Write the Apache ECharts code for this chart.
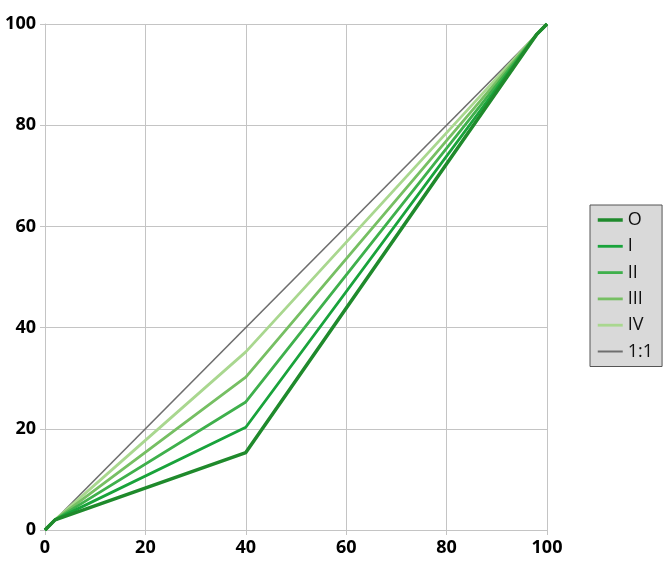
<!DOCTYPE html>
<html>
<head>
<meta charset="utf-8">
<script src="https://cdn.jsdelivr.net/npm/echarts@6/dist/echarts.min.js"></script>
<style>
html,body{margin:0;padding:0;background:#fff;}
#chart{width:668px;height:572px;}
</style>
</head>
<body>
<div id="chart"></div>
<script>
var xValues = [0, 2, 40, 98, 100];
var seriesNames = ['O', 'I', 'II', 'III', 'IV'];
var valuesO = [0, 2, 15.3, 98, 100];
var valuesI = [0, 2, 20.3, 98, 100];
var valuesII = [0, 2, 25.3, 98, 100];
var valuesIII = [0, 2, 30.2, 98, 100];
var valuesIV = [0, 2, 35.2, 98, 100];
var refName = '1:1';
var refX = [0, 100];
var refY = [0, 100];

var allValues = [valuesO, valuesI, valuesII, valuesIII, valuesIV];
var colors = ['#1f8a2c', '#19a33b', '#3fb04c', '#76bf63', '#a9d78f'];
var widths = [3.5, 2.8, 2.8, 2.8, 2.8];

function pairs(xs, ys) {
  return xs.map(function (x, i) { return [x, ys[i]]; });
}

var series = seriesNames.map(function (name, k) {
  return {
    name: name,
    type: 'line',
    symbol: 'none',
    showSymbol: false,
    data: pairs(xValues, allValues[k]),
    lineStyle: { color: colors[k], width: widths[k] },
    itemStyle: { color: colors[k] },
    z: 10 - k
  };
});
series.push({
  name: refName,
  type: 'line',
  symbol: 'none',
  showSymbol: false,
  data: pairs(refX, refY),
  lineStyle: { color: '#6e6e6e', width: 1.6 },
  itemStyle: { color: '#6e6e6e' },
  z: 1
});

var legendData = seriesNames.map(function (name, k) {
  return { name: name, lineStyle: { color: colors[k], width: k === 0 ? 3.5 : 2.8 } };
});
legendData.push({ name: refName, lineStyle: { color: '#6e6e6e', width: 2 } });

var chart = echarts.init(document.getElementById('chart'));
var axisLabel = { color: '#000', fontSize: 18, fontWeight: 'bold', fontFamily: 'Open Sans' };
chart.setOption({
  animation: false,
  grid: { left: 45, right: 121, top: 24, bottom: 42, containLabel: false },
  xAxis: {
    type: 'value', min: 0, max: 100, interval: 20,
    axisLine: { show: true, lineStyle: { color: '#c4c4c4' } },
    axisTick: { show: true, length: 5, lineStyle: { color: '#c4c4c4' } },
    splitLine: { show: true, lineStyle: { color: '#c4c4c4', width: 1 } },
    axisLabel: Object.assign({ margin: 9 }, axisLabel)
  },
  yAxis: {
    type: 'value', min: 0, max: 100, interval: 20,
    axisLine: { show: true, lineStyle: { color: '#c4c4c4' } },
    axisTick: { show: true, length: 5, lineStyle: { color: '#c4c4c4' } },
    splitLine: { show: true, lineStyle: { color: '#c4c4c4', width: 1 } },
    axisLabel: Object.assign({ margin: 9 }, axisLabel)
  },
  legend: {
    orient: 'vertical',
    left: 590,
    top: 205,
    padding: [6, 9, 6, 6],
    backgroundColor: '#d9d9d9',
    borderColor: '#555',
    borderWidth: 1,
    borderRadius: 0,
    itemWidth: 25,
    itemHeight: 14,
    itemGap: 8.3,
    itemStyle: { opacity: 0 },
    textStyle: { color: '#111', fontSize: 18, fontFamily: 'Open Sans', padding: [0, 0, 0, 0] },
    data: legendData
  },
  series: series
});
</script>
</body>
</html>
